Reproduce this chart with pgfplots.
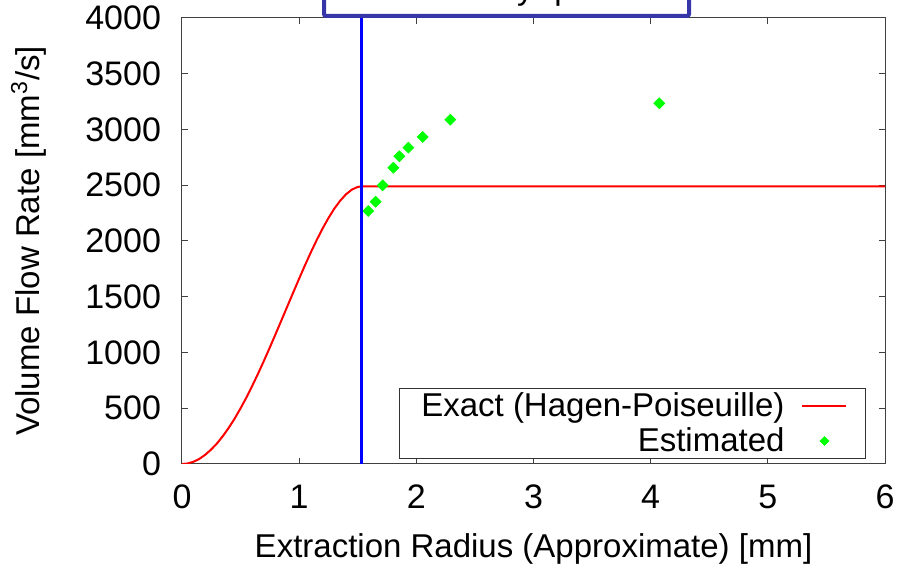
\documentclass[border=0pt]{standalone}
\usepackage{pgfplots}
\pgfplotsset{compat=1.18}
\usepackage{fontspec}
\setmainfont{Liberation Sans}
\definecolor{boxblue}{RGB}{54,54,168}
\definecolor{ptgreen}{RGB}{0,255,0}
\pgfplotsset{
  lineleg/.style={legend image code/.code={\path[draw=none] (0pt,0pt) -- (29pt,0pt);\draw[##1] (7pt,0pt) -- (29pt,0pt);}},
  markleg/.style={legend image code/.code={\path[draw=none] (0pt,0pt) -- (29pt,0pt);\draw[##1, mark size=1.5pt] plot coordinates {(18pt,0pt)};}},
}
\begin{document}
\begin{tikzpicture}
\begin{axis}[
  name=ax,
  scale only axis,
  width=351.5pt, height=223pt,
  xmin=0, xmax=6, ymin=0, ymax=4000,
  xtick={0,1,2,3,4,5,6},
  ytick={0,500,1000,1500,2000,2500,3000,3500,4000},
  tick align=inside,
  major tick length=3pt,
  axis line style={black!75, line width=0.5pt},
  tick style={black!75, line width=0.5pt},
  font=\fontsize{16.5}{19}\selectfont,
  tick label style={font=\fontsize{17}{19}\selectfont},
  /pgf/number format/assume math mode=true,
  /pgf/number format/set thousands separator={},
  xticklabel style={yshift=-7pt},
  yticklabel style={xshift=-7pt},
  xlabel={Extraction Radius (Approximate) [mm]},
  ylabel={Volume Flow Rate [mm\textsuperscript{3}/s]},
  xlabel style={yshift=-5.5pt},
  ylabel style={yshift=12.5pt},
  legend plot pos=right,
  legend cell align=right,
  legend style={at={([xshift=-9.5pt,yshift=2.5pt]rel axis cs:1,0)}, anchor=south east,
    draw=black!80, line width=0.5pt, inner xsep=9pt, inner ysep=0pt,
    row sep=0pt, font=\fontsize{16.5}{19}\selectfont},
  clip mode=individual,
]
\addplot[red, line width=1pt, mark=none, lineleg] coordinates {
(0,0) (0.05,5) (0.1,21) (0.15,47) (0.2,84) (0.25,131) (0.3,186) (0.35,252) (0.4,326) (0.45,408) (0.5,500)
(0.55,597) (0.6,702) (0.65,812) (0.7,927) (0.75,1046) (0.8,1168) (0.85,1292) (0.9,1416) (0.95,1540)
(1.0,1663) (1.05,1783) (1.1,1899) (1.15,2009) (1.2,2112) (1.25,2206) (1.3,2290) (1.35,2361)
(1.4,2419) (1.45,2461) (1.5,2485) (1.536,2490) (6,2490)
};
\addlegendentry{Exact (Hagen-Poiseuille)}
\addplot[only marks, mark=square*, mark size=1.9pt, color=ptgreen,
  mark options={rotate=45, fill=ptgreen, draw=ptgreen}, markleg] coordinates {
(1.59,2269) (1.653,2352) (1.713,2499) (1.804,2657) (1.855,2760) (1.932,2837) (2.054,2933) (2.290,3088) (4.074,3235)
};
\addlegendentry{Estimated}
\addplot[blue, line width=1.5pt, forget plot] coordinates {(1.536,0) (1.536,4000)};
\end{axis}
\begin{scope}
\clip ([shift={(-91pt,-50pt)}]ax.south west) rectangle ([shift={(7pt,9pt)}]ax.north east);
\draw[boxblue, line width=2pt, rounded corners=1pt] ([shift={(71pt,1pt)}]ax.north west) rectangle ([shift={(253.5pt,40pt)}]ax.north west);
\node[anchor=base east, inner sep=0pt, font=\fontsize{16.5}{19}\selectfont] at ([shift={(176pt,9pt)}]ax.north west) {Boundary};
\node[anchor=base west, inner sep=0pt, font=\fontsize{16.5}{19}\selectfont] at ([shift={(186pt,9pt)}]ax.north west) {position};
\end{scope}
\pgfresetboundingbox
\path[use as bounding box] ([shift={(-91pt,-50pt)}]ax.south west) rectangle ([shift={(7pt,9pt)}]ax.north east);
\end{tikzpicture}
\end{document}
